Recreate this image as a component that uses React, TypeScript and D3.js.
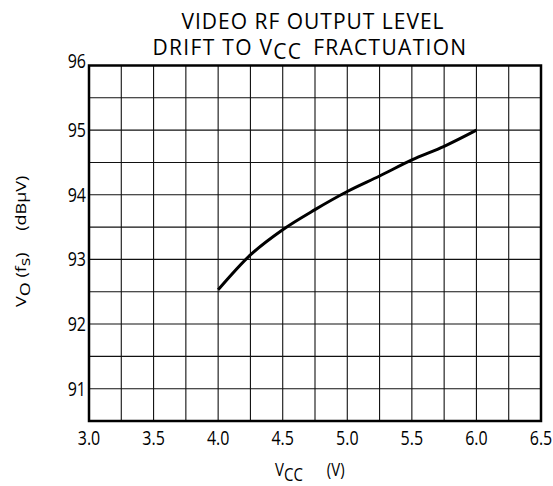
import React, { useRef, useEffect } from "react";
import * as d3 from "d3";

// Vcc (V)
const vcc = [4.0, 4.25, 4.5, 4.75, 5.0, 5.25, 5.5, 5.75, 6.0];
// Vo(fs) (dBuV)
const vo = [92.53, 93.07, 93.46, 93.77, 94.05, 94.29, 94.54, 94.75, 95.0];

const xTicks = [3.0, 3.5, 4.0, 4.5, 5.0, 5.5, 6.0, 6.5];
const yTicks = [91, 92, 93, 94, 95, 96];
const xGrid = d3.range(3.0, 6.5001, 0.25);
const yGrid = d3.range(90.5, 96.001, 0.5);

const FONT = "'Open Sans', 'Noto Sans', sans-serif";
const STRETCH = 1.2; // the scan is taller than it is wide

export default function App() {
  const svgRef = useRef<SVGSVGElement>(null);
  const width = 553;
  const height = 486;

  useEffect(() => {
    if (!svgRef.current) return;
    const svg = d3.select(svgRef.current);
    svg.selectAll("*").remove();

    const margin = { top: 65.5, right: 12, bottom: 65, left: 89 };
    const w = width - margin.left - margin.right;
    const h = height - margin.top - margin.bottom;

    const g = svg
      .append("g")
      .attr("transform", `translate(${margin.left},${margin.top})`);

    const x = d3.scaleLinear().domain([3.0, 6.5]).range([0, w]);
    const y = d3.scaleLinear().domain([90.5, 96]).range([h, 0]);

    // stretched text helper
    const label = (
      parent: d3.Selection<any, unknown, null, undefined>,
      tx: number,
      ty: number,
      size: number,
      anchor = "start",
      k = STRETCH
    ) =>
      parent
        .append("text")
        .attr("transform", `translate(${tx},${ty}) scale(1,${k})`)
        .attr("text-anchor", anchor)
        .style("font-family", FONT)
        .style("font-size", `${size}px`)
        .style("fill", "#000");

    // grid
    g.selectAll("line.vg")
      .data(xGrid)
      .enter()
      .append("line")
      .attr("x1", (d) => x(d))
      .attr("x2", (d) => x(d))
      .attr("y1", 0)
      .attr("y2", h)
      .attr("stroke", "#111")
      .attr("stroke-width", 1.1);

    g.selectAll("line.hg")
      .data(yGrid)
      .enter()
      .append("line")
      .attr("x1", 0)
      .attr("x2", w)
      .attr("y1", (d) => y(d))
      .attr("y2", (d) => y(d))
      .attr("stroke", "#111")
      .attr("stroke-width", 1.1);

    // frame
    g.append("rect")
      .attr("x", 0)
      .attr("y", 0)
      .attr("width", w)
      .attr("height", h)
      .attr("fill", "none")
      .attr("stroke", "#000")
      .attr("stroke-width", 2.5);

    // x tick labels
    xTicks.forEach((d) => {
      label(g, x(d), h + 24, 16, "middle").text(d.toFixed(1));
    });

    // y tick labels
    yTicks.forEach((d) => {
      label(g, -3, y(d) + (d === 96 ? 2 : 7), 16, "end").text(d);
    });

    // curve
    const line = d3
      .line<number>()
      .x((_, i) => x(vcc[i]))
      .y((d) => y(d))
      .curve(d3.curveMonotoneX);
    g.append("path")
      .datum(vo)
      .attr("d", line)
      .attr("fill", "none")
      .attr("stroke", "#000")
      .attr("stroke-width", 3);

    // title (two lines in one text element)
    const title = label(svg, 0, 0, 21, "middle", 1.08).style("letter-spacing", "1px");
    title.append("tspan").attr("x", 313).attr("y", 27).text("VIDEO RF OUTPUT LEVEL");
    title
      .append("tspan")
      .attr("x", 310)
      .attr("y", 51)
      .style("letter-spacing", "1.3px")
      .text("DRIFT TO V");
    title.append("tspan").attr("dy", 4).style("letter-spacing", "1.3px").text("CC");
    title
      .append("tspan")
      .attr("dy", -4)
      .attr("dx", 4)
      .style("letter-spacing", "1.3px")
      .text(" FRACTUATION");

    // x axis label
    const xl = label(svg, 275, 476, 15);
    xl.append("tspan").text("V");
    xl.append("tspan").attr("dy", 4).text("CC");
    xl.append("tspan").attr("dy", -4).attr("dx", 24).text("(V)");

    // y axis label (rotated)
    const yl = svg
      .append("text")
      .attr("transform", `translate(26,307) scale(1,${STRETCH}) rotate(-90)`)
      .style("font-family", FONT)
      .style("font-size", "15px");
    yl.append("tspan").text("V");
    yl.append("tspan").attr("dy", 4).text("O");
    yl.append("tspan").attr("dy", -4).text(" (f");
    yl.append("tspan").attr("dy", 4).text("s");
    yl.append("tspan").attr("dy", -4).text(")");
    yl.append("tspan").attr("dx", 18).text("(dBμV)");
  }, []);

  return (
    <svg
      ref={svgRef}
      width={width}
      height={height}
      viewBox={`0 0 ${width} ${height}`}
      style={{ position: "absolute", left: 0, top: 0, background: "#fff" }}
    />
  );
}
